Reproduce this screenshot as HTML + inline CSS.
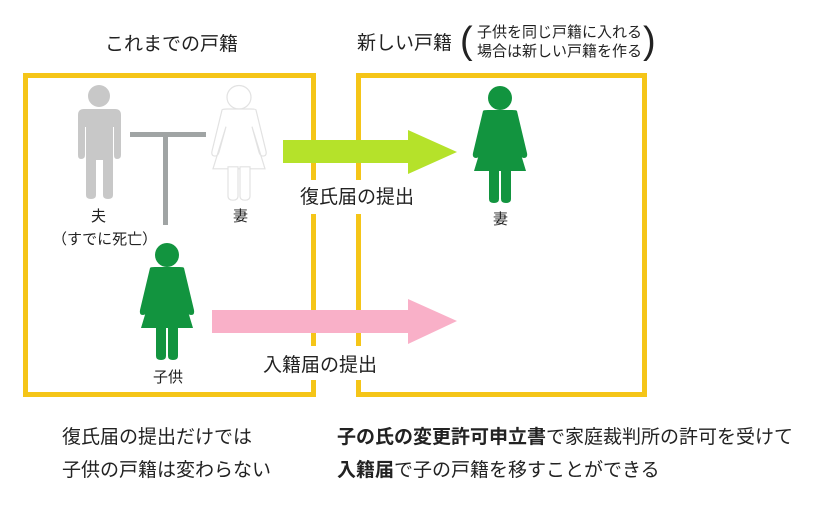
<!DOCTYPE html>
<html><head><meta charset="utf-8"><style>
html,body{margin:0;padding:0;background:#fff;}
body{width:823px;height:517px;position:relative;overflow:hidden;font-family:"Liberation Sans","Noto Sans CJK JP",sans-serif;color:#222;}
.t{position:absolute;white-space:nowrap;line-height:1;}
</style></head><body>
<svg width="823" height="517" style="position:absolute;left:0;top:0">
<defs>
<g id="woman">
<circle cx="0" cy="-13" r="12"/>
<path d="M-17,0 Q-17,-1 -12,-1 L12,-1 Q17,-1 17,0 L27,42 Q28,47 24,47 Q21,47 20,43 L13,17 L26,60 L-26,60 L-13,17 L-20,43 Q-21,47 -24,47 Q-28,47 -27,42 Z"/>
<path d="M-11,58 L-1,58 L-1,88 Q-1,92 -6,92 Q-11,92 -11,88 Z M1,58 L11,58 L11,88 Q11,92 6,92 Q1,92 1,88 Z"/>
</g>
</defs>
<rect x="25.5" y="75.5" width="288" height="319" fill="none" stroke="#f5c518" stroke-width="5"/>
<rect x="358.5" y="75.5" width="286" height="319" fill="none" stroke="#f5c518" stroke-width="5"/>
<path d="M283,140 L408,140 L408,130 L457,152 L408,174 L408,163 L283,163 Z" fill="#b5e22a"/>
<path d="M212,310 L408,310 L408,299 L457,321 L408,344 L408,333 L212,333 Z" fill="#f9b0c8"/>
<rect x="298" y="180" width="120" height="34" fill="#fff"/>
<rect x="259" y="346" width="122" height="34" fill="#fff"/>
<g fill="#c8c8c8">
<circle cx="99" cy="96" r="11"/>
<path d="M84,109 L115,109 Q121,109 121,115 L121,155 Q121,159 117,159 Q114,159 114,155 L114,127 L113,127 L113,195 Q113,199 108,199 Q103,199 103,195 L103,160 L96,160 L96,195 Q96,199 91,199 Q86,199 86,195 L86,127 L85,127 L85,155 Q85,159 81,159 Q78,159 78,155 L78,115 Q78,109 84,109 Z"/>
</g>
<rect x="130" y="132" width="76" height="5" fill="#a0a4a4"/>
<rect x="163" y="132" width="5" height="93" fill="#a0a4a4"/>
<g transform="translate(239,110) scale(1,0.98)" fill="#fff" stroke="#e2e2e2" stroke-width="1.2"><use href="#woman"/></g>
<g transform="translate(167,268)" fill="#12943f"><use href="#woman"/></g>
<g transform="translate(500,111)" fill="#12943f"><use href="#woman"/></g>
</svg>
<div class="t" style="left:105px;top:35px;font-size:19px;">これまでの戸籍</div>
<div class="t" style="left:357px;top:34px;font-size:19px;">新しい戸籍</div>
<div class="t" style="left:460px;top:22px;font-size:38px;font-weight:300;">(</div>
<div class="t" style="left:477px;top:25px;font-size:15px;">子供を同じ戸籍に入れる</div>
<div class="t" style="left:477px;top:44px;font-size:15px;">場合は新しい戸籍を作る</div>
<div class="t" style="left:643px;top:22px;font-size:38px;font-weight:300;">)</div>
<div class="t" style="left:300px;top:188px;font-size:19px;">復氏届の提出</div>
<div class="t" style="left:263px;top:356px;font-size:19px;">入籍届の提出</div>
<div class="t" style="left:91px;top:209px;font-size:15px;">夫</div>
<div class="t" style="left:52px;top:232px;font-size:15px;">（すでに死亡）</div>
<div class="t" style="left:233px;top:209px;font-size:15px;">妻</div>
<div class="t" style="left:493px;top:212px;font-size:15px;">妻</div>
<div class="t" style="left:153px;top:370px;font-size:15px;">子供</div>
<div class="t" style="left:62px;top:428px;font-size:19px;">復氏届の提出だけでは</div>
<div class="t" style="left:62px;top:461px;font-size:19px;">子供の戸籍は変わらない</div>
<div class="t" style="left:337px;top:428px;font-size:19px;"><b>子の氏の変更許可申立書</b>で家庭裁判所の許可を受けて</div>
<div class="t" style="left:337px;top:461px;font-size:19px;"><b>入籍届</b>で子の戸籍を移すことができる</div>
</body></html>
